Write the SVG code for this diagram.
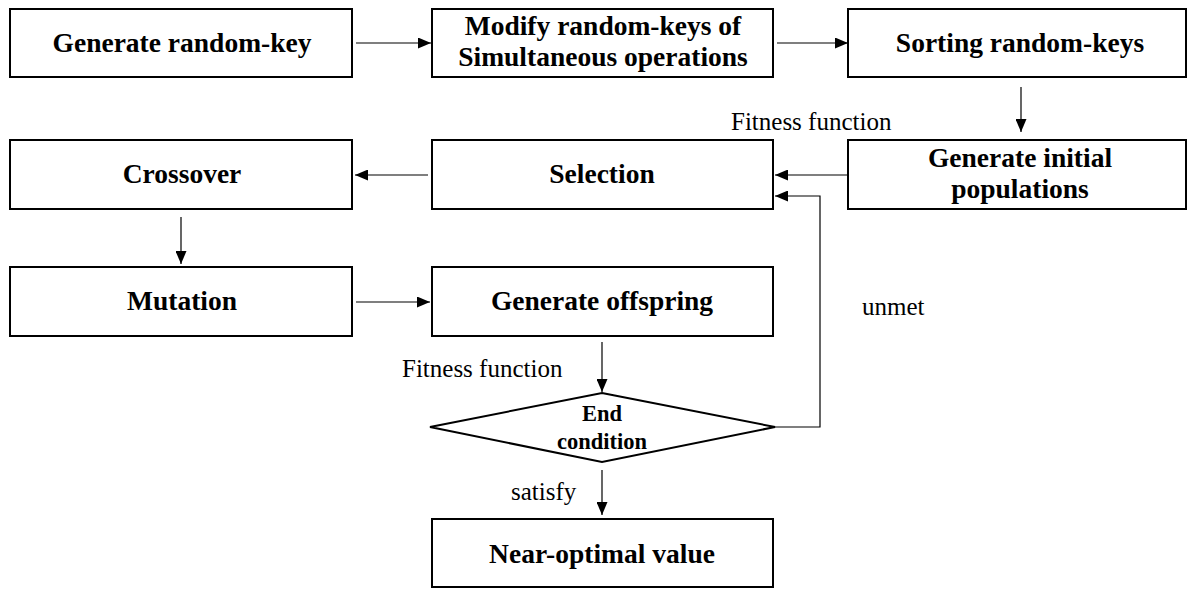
<svg xmlns="http://www.w3.org/2000/svg" width="1191" height="589" viewBox="0 0 1191 589">
<defs>
<marker id="ah" markerWidth="13" markerHeight="11" refX="13" refY="5.5" orient="auto" markerUnits="userSpaceOnUse">
<path d="M0,0 L13,5.5 L0,11 Z" fill="#000"/>
</marker>
<style>
.box{fill:#fff;stroke:#000;stroke-width:2}
.b{font-family:"Liberation Serif","Times New Roman",serif;font-weight:bold;font-size:27.5px;fill:#000;text-anchor:middle}
.s{font-family:"Liberation Serif","Times New Roman",serif;font-size:25px;fill:#000}
.c{fill:none;stroke:#000;stroke-width:1.2}
</style>
</defs>
<rect width="1191" height="589" fill="#fff"/>
<g id="n1"><rect class="box" x="10" y="9" width="342" height="68"/><text class="b" x="182" y="52">Generate random-key</text></g>
<g id="n2"><rect class="box" x="432" y="9" width="341" height="68"/><text class="b" x="603" y="35">Modify random-keys of</text><text class="b" x="603" y="66">Simultaneous operations</text></g>
<g id="n3"><rect class="box" x="848" y="9" width="338" height="68"/><text class="b" x="1020" y="52">Sorting random-keys</text></g>
<g id="n4"><rect class="box" x="848" y="140" width="338" height="69"/><text class="b" x="1020" y="167">Generate initial</text><text class="b" x="1020" y="198">populations</text></g>
<g id="n5"><rect class="box" x="432" y="140" width="341" height="69"/><text class="b" x="602" y="183">Selection</text></g>
<g id="n6"><rect class="box" x="10" y="140" width="342" height="69"/><text class="b" x="182" y="183">Crossover</text></g>
<g id="n7"><rect class="box" x="10" y="267" width="342" height="69"/><text class="b" x="182" y="310">Mutation</text></g>
<g id="n8"><rect class="box" x="432" y="267" width="341" height="69"/><text class="b" x="602" y="310">Generate offspring</text></g>
<g id="n9"><polygon class="box" points="602,393 775,427 602,462 430,427"/><text class="b" x="602" y="421" style="font-size:22.5px">End</text><text class="b" x="602" y="449" style="font-size:22.5px">condition</text></g>
<g id="n10"><rect class="box" x="432" y="519" width="341" height="68"/><text class="b" x="602" y="563">Near-optimal value</text></g>
<g id="connectors">
<line class="c" x1="356" y1="43" x2="431" y2="43" marker-end="url(#ah)"/>
<line class="c" x1="777" y1="43" x2="848" y2="43" marker-end="url(#ah)"/>
<line class="c" x1="1021" y1="87" x2="1021" y2="132" marker-end="url(#ah)"/>
<line class="c" x1="848" y1="175" x2="775" y2="175" marker-end="url(#ah)"/>
<line class="c" x1="428" y1="175" x2="355" y2="175" marker-end="url(#ah)"/>
<line class="c" x1="181" y1="217" x2="181" y2="264" marker-end="url(#ah)"/>
<line class="c" x1="356" y1="302" x2="430" y2="302" marker-end="url(#ah)"/>
<line class="c" x1="602" y1="342" x2="602" y2="392" marker-end="url(#ah)"/>
<polyline class="c" points="775,427 820,427 820,196 775,196" marker-end="url(#ah)"/>
<line class="c" x1="602" y1="470" x2="602" y2="515" marker-end="url(#ah)"/>
</g>
<g id="labels">
<text class="s" x="731" y="130">Fitness function</text>
<text class="s" x="402" y="377">Fitness function</text>
<text class="s" x="862" y="315">unmet</text>
<text class="s" x="511" y="500">satisfy</text>
</g>
</svg>
